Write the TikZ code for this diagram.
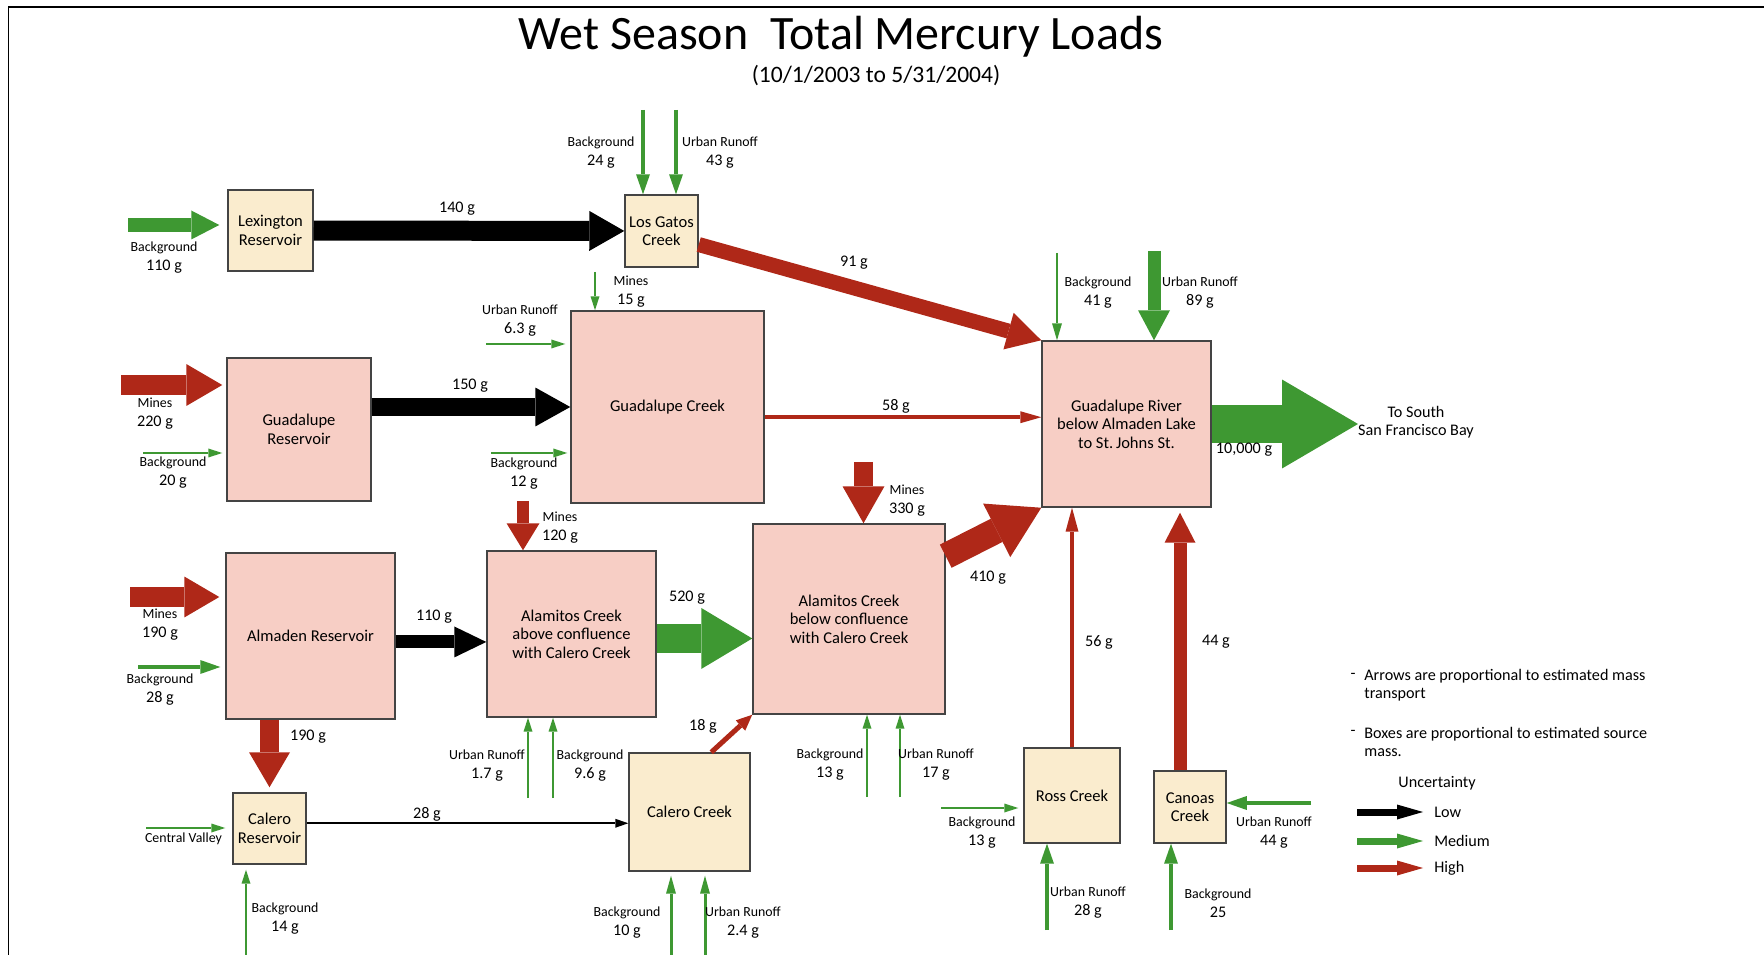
\documentclass[tikz,border=0pt]{standalone}
\usepackage{fontspec}
\setmainfont{Carlito}
\usetikzlibrary{positioning, arrows.meta}

\definecolor{hggreen}{RGB}{62,152,50}
\definecolor{hgred}{RGB}{175,40,24}
\definecolor{boxpink}{RGB}{247,206,197}
\definecolor{boxcream}{RGB}{250,236,206}
\definecolor{boxline}{RGB}{68,68,68}

\newcommand{\titlefont}{\fontsize{27.3}{30}\selectfont}
\newcommand{\subfont}{\fontsize{13.4}{15}\selectfont}
\newcommand{\boxfont}{\fontsize{9.4}{10.5}\selectfont}
\newcommand{\valfont}{\fontsize{9.2}{10.8}\selectfont}
\newcommand{\lblfont}{\fontsize{7.9}{10.8}\selectfont}
\newcommand{\legfont}{\fontsize{9.2}{10.2}\selectfont}

\begin{document}
\begin{tikzpicture}[
        x=0.02cm, y=-0.02cm,
        box/.style={
            rectangle,
            draw=boxline,
            line width=0.03cm,
            inner sep=0pt,
            align=center,
            font=\boxfont
        },
        pinkbox/.style={box, fill=boxpink},
        creambox/.style={box, fill=boxcream},
        src/.style={align=center, inner sep=0pt, font=\lblfont},
        val/.style={inner sep=0pt, font=\valfont},
        legtext/.style={inner sep=0pt, align=left, font=\legfont},
        flow/.style n args={3}{
            line width=#1,
            -{Triangle[width=#2, length=#3, line width=0pt]}
        },
        thinflow/.style={flow={0.04cm}{0.18cm}{0.28cm}},
        medflow/.style={flow={0.08cm}{0.28cm}{0.4cm}}
    ]

    \useasboundingbox (0,0) rectangle (1764,955);
    \draw[line width=0.04cm] (8.5,955) -- (8.5,7.5) -- (1764,7.5);

    % Title
    \node[font=\titlefont, inner sep=0pt] (title) at (841,37) {Wet Season\ \ Total Mercury Loads};
    \node[font=\subfont, inner sep=0pt] (period) at (876,76) {(10/1/2003 to 5/31/2004)};

    % Reservoirs and creeks
    \node[creambox, minimum width=1.70cm, minimum height=1.62cm] (lex) at (270.5,230.5) {Lexington\\Reservoir};
    \node[creambox, minimum width=1.46cm, minimum height=1.44cm] (lgc) at (661.5,231) {Los Gatos\\Creek};
    \node[pinkbox, minimum width=2.88cm, minimum height=2.86cm] (gres) at (299,429.5) {Guadalupe\\Reservoir};
    \node[pinkbox, minimum width=3.86cm, minimum height=3.84cm] (gcr) at (667.5,407) {Guadalupe Creek};
    \node[pinkbox, minimum width=3.38cm, minimum height=3.32cm] (gr) at (1126.5,424) {Guadalupe River\\below Almaden Lake\\to St.\,Johns St.};
    \node[pinkbox, minimum width=3.38cm, minimum height=3.32cm] (ares) at (310.5,636) {Almaden Reservoir};
    \node[pinkbox, minimum width=3.38cm, minimum height=3.32cm] (aab) at (571.5,634) {Alamitos Creek\\above confluence\\with Calero Creek};
    \node[pinkbox, minimum width=3.84cm, minimum height=3.80cm] (abl) at (849,619) {Alamitos Creek\\below confluence\\with Calero Creek};
    \node[creambox, minimum width=1.46cm, minimum height=1.42cm] (cres) at (269.5,828.5) {Calero\\Reservoir};
    \node[creambox, minimum width=2.42cm, minimum height=2.36cm] (ccr) at (689.5,812) {Calero Creek};
    \node[creambox, minimum width=1.92cm, minimum height=1.90cm] (ross) at (1072,795.5) {Ross Creek};
    \node[creambox, minimum width=1.44cm, minimum height=1.44cm] (can) at (1190,807) {Canoas\\Creek};

    % Where the inflows start
    \coordinate (bg110) at (128,225);
    \coordinate (bg24) at (643,110);
    \coordinate (ur43) at (676,110);
    \coordinate (mn15) at (595,272);
    \coordinate (ur63) at (486,344);
    \coordinate (mn220) at (121,385);
    \coordinate (bg20) at (143,453);
    \coordinate (bg12) at (491,453);
    \coordinate (bg41) at (1057,253);
    \coordinate (ur89) at (1154,251);
    \coordinate (bay) at (1358,424);
    \coordinate (mn330) at (863.5,462);
    \coordinate (mn120) at (523,501);
    \coordinate (mn190) at (130,597);
    \coordinate (bg28) at (138,667);
    \coordinate (cv) at (146,828);
    \coordinate (bg14) at (246,955);
    \coordinate (ur1p7) at (528,798);
    \coordinate (bg9p6) at (553,798);
    \coordinate (bg10) at (671,955);
    \coordinate (ur2p4) at (705,955);
    \coordinate (bg13a) at (867,797);
    \coordinate (ur17) at (900,797);
    \coordinate (bg13b) at (941,808);
    \coordinate (ur28) at (1047,930);
    \coordinate (bg25) at (1171,930);
    \coordinate (ur44) at (1311,803);
    \coordinate (c44) at ([xshift=-0.2cm]can.north);

    % Flows
    \draw[hggreen, flow={0.28cm}{0.58cm}{0.56cm}, shorten >=0.16cm] (bg110) -- (bg110 -| lex.west);
    \draw[flow={0.4cm}{0.8cm}{0.7cm}] (lex) -- (lgc);
    \draw[hggreen, medflow] (bg24) -- (bg24 |- lgc.north);
    \draw[hggreen, medflow] (ur43) -- (ur43 |- lgc.north);
    \draw[hgred, flow={0.3cm}{0.76cm}{0.68cm}] (lgc.-20) -- (gr.north west);
    \draw[hggreen, thinflow] (mn15) -- (mn15 |- gcr.north);
    \draw[hggreen, thinflow, shorten >=0.1cm] (ur63) -- (ur63 -| gcr.west);
    \draw[hgred, flow={0.4cm}{0.84cm}{0.72cm}, shorten >=0.08cm] (mn220) -- (mn220 -| gres.west);
    \draw[hggreen, thinflow, shorten >=0.08cm] (bg20) -- (bg20 -| gres.west);
    \draw[flow={0.36cm}{0.78cm}{0.7cm}] (gres.east |- gcr.west) -- (gcr.west);
    \draw[hggreen, thinflow, shorten >=0.06cm] (bg12) -- (bg12 -| gcr.west);
    \draw[hgred, flow={0.07cm}{0.24cm}{0.42cm}] (gcr.-6) -- (gcr.-6 -| gr.west);
    \draw[hggreen, flow={0.05cm}{0.2cm}{0.34cm}] (bg41) -- (bg41 |- gr.north);
    \draw[hggreen, flow={0.26cm}{0.64cm}{0.6cm}] (ur89) -- (ur89 |- gr.north);
    \draw[hggreen, flow={0.76cm}{1.78cm}{1.52cm}] (gr.east) -- (bay);
    \draw[hgred, flow={0.4cm}{0.82cm}{0.7cm}, shorten >=0.12cm] (mn190) -- (mn190 -| ares.west);
    \draw[hggreen, medflow, shorten >=0.1cm] (bg28) -- (bg28 -| ares.west);
    \draw[flow={0.26cm}{0.62cm}{0.64cm}] (ares.-4) -- (ares.-4 -| aab.west);
    \draw[hgred, flow={0.24cm}{0.66cm}{0.54cm}] (mn120) -- (mn120 |- aab.north);
    \draw[hggreen, flow={0.58cm}{1.22cm}{1.02cm}] (aab.-3) -- (aab.-3 -| abl.west);
    \draw[hgred, flow={0.38cm}{0.84cm}{0.74cm}] (mn330) -- (mn330 |- abl.north);
    \draw[hgred, flow={0.52cm}{1.2cm}{1.0cm}] (abl.33) -- (gr.south west);
    \draw[hgred, flow={0.38cm}{0.82cm}{0.7cm}, shorten >=0.1cm] (cres.north |- ares.south) -- (cres.north);
    \draw[hggreen, thinflow, shorten >=0.14cm] (cv) -- (cv -| cres.west);
    \draw[hggreen, thinflow, shorten >=0.1cm] (bg14) -- (bg14 |- cres.south);
    \draw[flow={0.04cm}{0.18cm}{0.26cm}] (cres.8) -- (cres.8 -| ccr.west);
    \draw[hgred, flow={0.1cm}{0.28cm}{0.32cm}] (ccr.70) -- (abl.south west);
    \draw[hggreen, thinflow] (ur1p7) -- (ur1p7 |- aab.south);
    \draw[hggreen, thinflow] (bg9p6) -- (bg9p6 |- aab.south);
    \draw[hggreen, flow={0.06cm}{0.2cm}{0.36cm}, shorten >=0.08cm] (bg10) -- (bg10 |- ccr.south);
    \draw[hggreen, flow={0.06cm}{0.2cm}{0.36cm}, shorten >=0.08cm] (ur2p4) -- (ur2p4 |- ccr.south);
    \draw[hggreen, thinflow] (bg13a) -- (bg13a |- abl.south);
    \draw[hggreen, thinflow] (ur17) -- (ur17 |- abl.south);
    \draw[hggreen, thinflow, shorten >=0.1cm] (bg13b) -- (bg13b -| ross.west);
    \draw[hggreen, medflow] (ur28) -- (ur28 |- ross.south);
    \draw[hggreen, medflow] (bg25) -- (bg25 |- can.south);
    \draw[hggreen, medflow] (ur44) -- (ur44 -| can.east);
    \draw[hgred, flow={0.07cm}{0.26cm}{0.48cm}] (ross.north) -- (ross.north |- gr.south);
    \draw[hgred, flow={0.26cm}{0.62cm}{0.6cm}, shorten >=0.1cm] (c44) -- (c44 |- gr.south);

    % Source labels
    \node[src] (lbg110) at (164,257.5) {Background\\{\valfont 110 g}};
    \node[src] (lbg24) at (601,152.5) {Background\\{\valfont 24 g}};
    \node[src] (lur43) at (720,152.5) {Urban Runoff\\{\valfont 43 g}};
    \node[src] (lmn15) at (631,292) {Mines\\{\valfont 15 g}};
    \node[src] (lur63) at (520,321) {Urban Runoff\\{\valfont 6.3 g}};
    \node[src] (lmn220) at (155,414) {Mines\\{\valfont 220 g}};
    \node[src] (lbg20) at (173,472.5) {Background\\{\valfont 20 g}};
    \node[src] (lbg12) at (524,473.5) {Background\\{\valfont 12 g}};
    \node[src] (lbg41) at (1098,292.5) {Background\\{\valfont 41 g}};
    \node[src] (lur89) at (1200,292.5) {Urban Runoff\\{\valfont 89 g}};
    \node[src] (lmn330) at (907,501) {Mines\\{\valfont 330 g}};
    \node[src] (lmn120) at (560,527.5) {Mines\\{\valfont 120 g}};
    \node[src] (lmn190) at (160,625) {Mines\\{\valfont 190 g}};
    \node[src] (lbg28) at (160,689.5) {Background\\{\valfont 28 g}};
    \node[src] (lcv) at (183.5,839) {Central Valley};
    \node[src] (lbg14) at (285,918.5) {Background\\{\valfont 14 g}};
    \node[src] (lur1p7) at (487,766) {Urban Runoff\\{\valfont 1.7 g}};
    \node[src] (lbg9p6) at (590,766) {Background\\{\valfont 9.6 g}};
    \node[src] (lbg10) at (627,922.5) {Background\\{\valfont 10 g}};
    \node[src] (lur2p4) at (743,922.5) {Urban Runoff\\{\valfont 2.4 g}};
    \node[src] (lbg13a) at (830,764.5) {Background\\{\valfont 13 g}};
    \node[src] (lur17) at (936,764.5) {Urban Runoff\\{\valfont 17 g}};
    \node[src] (lbg13b) at (982,833) {Background\\{\valfont 13 g}};
    \node[src] (lur28) at (1088,903) {Urban Runoff\\{\valfont 28 g}};
    \node[src] (lbg25) at (1218,903.5) {Background\\{\valfont 25}};
    \node[src] (lur44) at (1274,832.5) {Urban Runoff\\{\valfont 44 g}};

    % Flow values
    \node[val] (v140) at (457,209) {140 g};
    \node[val] (v150) at (470,386) {150 g};
    \node[val] (v91) at (854,263) {91 g};
    \node[val] (v58) at (896,406) {58 g};
    \node[val] (v10000) at (1244,450) {10,000 g};
    \node[val] (v110) at (434,617) {110 g};
    \node[val] (v520) at (687,598) {520 g};
    \node[val] (v190) at (308,737) {190 g};
    \node[val] (v410) at (988,578) {410 g};
    \node[val] (v18) at (703,726) {18 g};
    \node[val] (v28) at (427,814) {28 g};
    \node[val] (v56) at (1099,642) {56 g};
    \node[val] (v44) at (1216,642) {44 g};
    \node[legtext, align=center] (sfbay) at (1416,422.5) {To South\\San Francisco Bay};

    % Legend
    \node[legtext] (d1) at (1353,676) {-};
    \node[legtext, anchor=west] (note1) at (1364,685) {Arrows are proportional to estimated mass\\transport};
    \node[legtext] (d2) at (1353,733) {-};
    \node[legtext, anchor=west] (note2) at (1364,742) {Boxes are proportional to estimated source\\mass.};
    \node[legtext] (unc) at (1437,783) {Uncertainty};
    \node[legtext, anchor=west] (low) at (1434,812) {Low};
    \node[legtext, anchor=west] (med) at (1434,841) {Medium};
    \node[legtext, anchor=west] (high) at (1434,868) {High};
    \coordinate (klow) at (1357,812);
    \coordinate (kmed) at (1357,841);
    \coordinate (khigh) at (1357,868);
    \draw[flow={0.14cm}{0.3cm}{0.52cm}, shorten >=0.22cm] (klow) -- (low);
    \draw[hggreen, flow={0.14cm}{0.3cm}{0.52cm}, shorten >=0.22cm] (kmed) -- (med);
    \draw[hgred, flow={0.14cm}{0.3cm}{0.52cm}, shorten >=0.22cm] (khigh) -- (high);

\end{tikzpicture}
\end{document}
